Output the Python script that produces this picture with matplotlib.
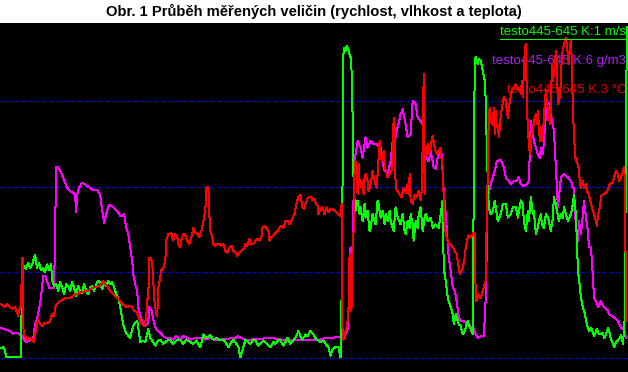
"""
Obr. 1 - průběh měřených veličin (rychlost, vlhkost a teplota), testo 445.
Recreated as a black-background trend plot with three traces.
"""

import matplotlib
matplotlib.use("Agg")
import matplotlib.pyplot as plt
from matplotlib.lines import Line2D

plt.rcParams["font.family"] = ["Liberation Sans", "DejaVu Sans"]

# ---------------------------------------------------------------------------
# Data (sample index, value in grid divisions)
# ---------------------------------------------------------------------------
speed_x = [0, 3, 5, 6, 21, 22, 24, 26, 28, 30, 32, 35, 37, 39, 41, 43, 45, 47, 49, 51,
           52, 54, 56, 58, 60, 62, 64, 66, 68, 70, 72, 74, 76, 78, 80, 82, 84, 86, 88, 90,
           92, 94, 96, 98, 100, 102, 104, 106, 108, 110, 112, 114, 116, 118, 120, 123,
           125, 127, 130, 133, 135, 137, 139, 140, 143, 145, 148, 150, 152, 155, 158,
           160, 163, 165, 168, 170, 173, 176, 180, 183, 186, 190, 193, 196, 200, 203,
           206, 210, 213, 216, 220, 223, 225, 228, 231, 233, 236, 238, 240, 242, 243,
           245, 248, 250, 253, 255, 258, 260, 263, 265, 268, 270, 273, 275, 278, 280,
           283, 285, 287, 290, 293, 295, 298, 300, 302, 305, 307, 310, 313, 316, 318,
           320, 323, 325, 328, 330, 332, 335, 338, 340, 341, 342, 343, 345, 346, 348,
           349, 350, 351, 352, 353, 354, 355, 357, 359, 360, 362, 364, 365, 367, 369,
           370, 372, 374, 375, 377, 378, 380, 382, 384, 385, 387, 389, 390, 392, 393,
           395, 397, 400, 402, 404, 405, 407, 409, 410, 412, 413, 415, 417, 418, 420,
           422, 424, 425, 427, 430, 432, 435, 438, 440, 442, 443, 445, 447, 449, 450,
           452, 453, 455, 457, 458, 460, 462, 464, 465, 467, 468, 470, 472, 473, 474,
           475, 477, 478, 480, 482, 484, 485, 486, 487, 488, 490, 492, 494, 495, 497,
           500, 502, 505, 507, 510, 512, 515, 517, 520, 522, 523, 525, 527, 528, 530,
           532, 533, 535, 537, 538, 540, 541, 543, 545, 547, 548, 550, 552, 553, 555,
           556, 558, 560, 562, 563, 565, 567, 570, 572, 573, 575, 577, 579, 580, 582,
           584, 585, 587, 588, 590, 592, 593, 595, 596, 598, 600, 602, 603, 605, 607,
           609, 610, 612, 613, 615, 617, 619, 620, 622, 624, 625, 626]
speed = [0.11, 0.12, 0.08, 0.01, 0.01, 1.05, 1.07, 1.04, 1.11, 1.05, 1.09, 1.20, 1.05,
         1.11, 1.02, 1.05, 1.00, 1.09, 1.02, 1.10,
         0.90, 0.84, 0.86, 0.78, 0.88, 0.82, 0.74, 0.86, 0.84, 0.78, 0.88, 0.82, 0.72,
         0.84, 0.78, 0.76, 0.86, 0.78, 0.74, 0.82,
         0.84, 0.78, 0.86, 0.90, 0.88, 0.80, 0.87, 0.84, 0.90, 0.86, 0.88, 0.82, 0.74,
         0.70, 0.59, 0.39,
         0.31, 0.27, 0.23, 0.37, 0.41, 0.43, 0.27, 0.18, 0.20, 0.18, 0.33, 0.23, 0.20,
         0.14, 0.20,
         0.21, 0.16, 0.18, 0.21, 0.20, 0.16, 0.20, 0.20, 0.16, 0.21, 0.18, 0.16, 0.20,
         0.12, 0.27,
         0.23, 0.26, 0.21, 0.23, 0.20, 0.21, 0.18, 0.12, 0.18, 0.21, 0.16, 0.12, 0.00,
         0.08, 0.12,
         0.21, 0.18, 0.16, 0.21, 0.20, 0.14, 0.16, 0.20, 0.18, 0.14, 0.12, 0.18, 0.16,
         0.21, 0.20,
         0.14, 0.18, 0.23, 0.16, 0.20, 0.23, 0.31, 0.25, 0.21, 0.27, 0.25, 0.31, 0.27,
         0.21, 0.20,
         0.18, 0.20, 0.16, 0.12, 0.02, 0.10, 0.12, 0.12, 0.00, 0.70, 2.07, 3.63, 3.59,
         3.65, 3.61,
         3.55, 3.52, 3.36, 2.85, 2.07, 1.84, 1.72, 1.84, 1.68, 1.76, 1.60, 1.80, 1.64,
         1.72, 1.48,
         1.52, 1.68, 1.60, 1.56, 1.84, 1.80, 1.64, 1.72, 1.56, 1.68, 1.60, 1.72, 1.60,
         1.52, 1.48,
         1.76, 1.64, 1.56, 1.68, 1.48, 1.45, 1.60, 1.52, 1.68, 1.56, 1.37, 1.60, 1.52,
         1.68, 1.76,
         1.48, 1.64, 1.68, 1.60, 1.64, 1.52, 1.56, 1.52, 1.68, 1.84, 1.05, 0.90, 0.70,
         0.63, 0.59,
         0.51, 0.39, 0.51, 0.43, 0.39, 0.37, 0.27, 0.31, 0.35, 0.43, 0.39, 0.33, 0.27,
         2.07, 3.48,
         3.52, 3.44, 3.50, 3.48, 3.36, 3.24, 3.01, 2.46, 2.07, 1.76, 1.68, 1.72, 1.84,
         1.76, 1.60,
         1.68, 1.80, 1.80, 1.64, 1.68, 1.76, 1.76, 1.64, 1.84, 1.80, 1.60, 1.48, 1.72,
         1.60, 1.88,
         1.68, 1.72, 1.45, 1.52, 1.60, 1.68, 1.56, 1.52, 1.68, 1.64, 1.60, 1.48, 1.64,
         1.88, 1.80,
         1.72, 1.60, 1.68, 1.64, 1.76, 1.68, 1.60, 1.68, 1.80, 1.91, 1.68, 1.02, 0.82,
         0.70, 0.59,
         0.51, 0.43, 0.35, 0.31, 0.35, 0.29, 0.25, 0.31, 0.33, 0.27, 0.27, 0.29, 0.23,
         0.27, 0.35,
         0.27, 0.21, 0.16, 0.12, 0.18, 0.20, 0.23, 0.27, 0.16, 0.51, 2.85, 3.87]

humid_x = [0, 5, 10, 13, 17, 20, 22, 23, 26, 30, 33, 35, 37, 40, 42, 43, 45, 47, 49, 51,
           54, 55, 56, 58, 60, 63, 65, 67, 70, 73, 75, 76, 77, 79, 82, 85, 87, 90, 93,
           97, 100, 102, 104, 106, 108, 109, 112, 115, 118, 120, 122, 124, 126, 128,
           130, 132, 133, 135, 137, 138, 140, 142, 145, 148, 149, 151, 152, 154, 156,
           160, 163, 166, 170, 173, 176, 180, 183, 187, 190, 195, 200, 205, 210, 215,
           220, 235, 238, 240, 245, 250, 270, 280, 290, 300, 310, 318, 325, 330, 340,
           343, 345, 347, 348, 349, 350, 351, 352, 353, 354, 355, 357, 360, 362, 365,
           367, 370, 373, 376, 378, 380, 382, 384, 387, 390, 392, 395, 397, 400, 402,
           405, 407, 410, 412, 415, 417, 420, 422, 424, 426, 428, 430, 433, 435, 437,
           439, 441, 443, 445, 447, 448, 450, 452, 454, 456, 458, 460, 462, 465, 468,
           471, 473, 475, 477, 480, 483, 485, 486, 487, 489, 492, 494, 496, 500, 503,
           505, 508, 510, 513, 516, 518, 520, 523, 526, 528, 530, 533, 537, 539, 540,
           542, 545, 546, 549, 550, 553, 555, 557, 559, 560, 563, 567, 570, 572, 573,
           575, 577, 578, 580, 582, 583, 585, 587, 588, 590, 592, 593, 595, 597, 600,
           603, 607, 608, 613, 617, 620, 623, 625]
humid = [0.35, 0.33, 0.31, 0.28, 0.29, 0.27, 0.25, 0.23, 0.18, 0.20, 0.21, 0.39, 0.45,
         0.63, 0.82, 0.96, 0.96, 0.90, 0.82, 0.81,
         0.82, 1.45, 2.23, 2.23, 2.19, 2.11, 2.05, 1.99, 1.95, 1.93, 1.91, 1.70, 1.91,
         1.99, 2.05, 2.03, 2.01, 1.99, 1.96,
         1.96, 1.91, 1.72, 1.58, 1.68, 1.76, 1.79, 1.77, 1.74, 1.70, 1.66, 1.66, 1.68,
         1.52, 1.46,
         1.29, 1.13, 0.98, 0.86, 0.78, 0.59, 0.49, 0.41, 0.37, 0.41, 0.59, 0.57, 0.51,
         0.39, 0.33,
         0.29, 0.25, 0.23, 0.23, 0.21, 0.25, 0.21, 0.25, 0.23, 0.21, 0.23, 0.23, 0.21,
         0.23, 0.20,
         0.21, 0.23, 0.25, 0.23, 0.21, 0.21, 0.23, 0.21, 0.20, 0.20, 0.20, 0.20, 0.23,
         0.23, 0.24,
         0.21, 0.27, 0.33, 0.59, 0.98, 1.29, 0.59, 1.29, 1.88, 2.30, 2.38, 2.54, 2.46,
         2.34, 2.58,
         2.46, 2.54, 2.50, 2.50, 2.48, 2.46, 2.27, 2.19, 2.15, 2.30, 2.54, 2.58, 2.70,
         2.85, 2.91,
         2.73, 2.58, 2.62, 3.01, 2.97, 2.81, 2.77, 2.73, 2.38, 2.34, 2.30, 2.42, 2.23,
         2.21, 2.34,
         2.42, 2.38, 1.95, 1.68, 1.33, 1.17, 1.02, 0.82, 0.78, 0.66, 0.47, 0.43, 0.43,
         0.41, 0.39,
         0.35, 0.33, 0.27, 0.23, 0.25, 0.25, 0.70, 1.29, 1.88, 1.99, 2.11, 2.19, 2.30,
         2.32, 2.23,
         2.11, 2.07, 2.03, 2.07, 2.07, 2.11, 2.03, 2.01, 2.03, 2.07, 2.77, 2.54, 2.38,
         2.34, 2.46,
         2.38, 2.85, 2.99, 2.97, 2.85, 2.66, 2.23, 1.76, 1.99, 2.11, 2.15, 2.11, 2.07,
         1.99, 1.99,
         1.52, 1.37, 1.60, 1.45, 1.68, 1.84, 1.64, 1.48, 1.29, 1.29, 0.94, 0.70, 0.66,
         0.59, 0.66,
         0.59, 0.55, 0.51, 0.47, 0.43, 0.35, 0.33, 0.23]

temp_x = [0, 3, 5, 7, 10, 13, 15, 17, 18, 20, 21, 22, 23, 23.5, 25, 27, 30, 32, 34, 35,
          37, 38, 40, 42, 45, 48, 50, 52, 54, 55, 57, 60, 63, 65, 67, 70, 73, 75, 78, 80,
          83, 87, 90, 93, 97, 100, 103, 105, 108, 110, 113, 115, 117, 120, 122, 124,
          127, 130, 132, 134, 136, 138, 140, 142, 144, 146, 147, 148, 149, 151, 152,
          153, 154, 156, 157, 158, 160, 161, 163, 165, 166, 168, 170, 171, 172, 173,
          175, 177, 178, 180, 181, 183, 185, 187, 189, 190, 192, 193, 195, 197, 199,
          201, 203, 205, 206, 208, 209, 210, 212, 213, 215, 217, 219, 221, 223, 225,
          227, 229, 231, 233, 235, 237, 239, 241, 243, 245, 247, 249, 251, 253, 255,
          257, 259, 261, 262, 264, 266, 268, 269, 271, 273, 275, 277, 279, 281, 283,
          285, 287, 289, 291, 293, 294, 296, 298, 300, 302, 304, 305, 307, 309, 311,
          312, 314, 315, 317, 318, 320, 322, 324, 326, 328, 330, 332, 334, 336, 338,
          340, 341, 342, 343, 344, 345, 346, 347, 348, 349, 350, 351, 352, 353, 354,
          355, 356, 357, 358, 359, 361, 362, 363, 364, 365, 367, 368, 370, 372, 374,
          376, 377, 378, 379, 380, 382, 383, 385, 387, 389, 391, 392, 393, 394, 395,
          397, 399, 401, 403, 405, 407, 408, 409, 410, 412, 414, 416, 418, 420, 421,
          422, 423, 424, 425, 426, 427, 428, 430, 431, 432, 434, 436, 438, 440, 441,
          442, 443, 444, 446, 448, 450, 452, 454, 456, 458, 459, 461, 462, 464, 465,
          467, 468, 470, 472, 473, 474, 475, 477, 478, 480, 482, 483, 485, 486, 487,
          488, 489, 490, 492, 493, 494, 495, 496, 497, 498, 499, 500, 502, 503, 505,
          506, 507, 509, 511, 513, 515, 517, 518, 520, 521, 522, 524, 525, 526, 527,
          529, 530, 531, 532, 533, 535, 536, 537, 539, 540, 541, 543, 544, 545, 546,
          548, 549, 550, 551, 552, 553, 555, 556, 557, 559, 560, 561, 563, 565, 567,
          568, 569, 570, 571, 572, 573, 574, 575, 576, 577, 578, 579, 580, 582, 583,
          585, 586, 588, 590, 592, 593, 595, 596, 597, 599, 600, 602, 603, 605, 607,
          608, 610, 612, 613, 615, 617, 618, 620, 622, 623, 624, 625]
temp = [0.63, 0.61, 0.59, 0.63, 0.59, 0.57, 0.59, 0.53, 0.49, 0.59, 0.59, 1.17, 1.17,
        0.27, 0.25, 0.21, 0.23, 0.21, 0.18, 0.27,
        0.39, 0.45, 0.39, 0.37, 0.41, 0.41, 0.43, 0.51, 0.49, 0.59, 0.63, 0.66, 0.68,
        0.70, 0.70, 0.70, 0.72, 0.74, 0.75, 0.76,
        0.77, 0.78, 0.80, 0.82, 0.83, 0.84, 0.90, 0.86, 0.82, 0.78, 0.74, 0.72, 0.70,
        0.66, 0.63, 0.61,
        0.59, 0.61, 0.59, 0.55, 0.53, 0.49, 0.43, 0.39, 0.37, 0.47, 0.68, 0.70, 1.17,
        1.15, 1.11,
        0.90, 0.68, 0.51, 0.49, 0.82, 0.94, 1.02, 1.05, 1.13, 1.37, 1.45, 1.45, 1.46,
        1.41, 1.37,
        1.45, 1.41, 1.33, 1.29, 1.37, 1.45, 1.43, 1.37, 1.33, 1.37, 1.45, 1.52, 1.46,
        1.45, 1.41,
        1.48, 1.60, 1.72, 1.99, 2.00, 1.68, 1.48, 1.41, 1.33, 1.31, 1.33, 1.33, 1.31,
        1.33, 1.25,
        1.23, 1.29, 1.31, 1.25, 1.23, 1.19, 1.23, 1.25, 1.27, 1.33, 1.31, 1.39, 1.33,
        1.33, 1.37,
        1.39, 1.37, 1.41, 1.52, 1.54, 1.52, 1.48, 1.37, 1.41, 1.43, 1.46, 1.48, 1.52,
        1.54, 1.52,
        1.60, 1.60, 1.56, 1.60, 1.66, 1.68, 1.80, 1.89, 1.91, 1.76, 1.74, 1.80, 1.86,
        1.88, 1.88,
        1.84, 1.86, 1.82, 1.78, 1.68, 1.74, 1.76, 1.68, 1.76, 1.70, 1.74, 1.74, 1.72,
        1.70, 1.68,
        1.66, 1.80, 0.27, 0.21, 0.27, 0.31, 0.35, 0.43, 0.59, 1.21, 0.55, 0.59, 1.29,
        1.48, 2.19,
        2.30, 2.19, 1.91, 2.27, 2.07, 1.99, 2.07, 1.91, 2.11, 2.15, 2.07, 1.95, 2.03,
        2.19, 2.07,
        1.99, 2.15, 2.34, 2.54, 2.34, 2.30, 2.42, 2.19, 2.11, 2.15, 2.19, 2.30, 2.81,
        2.73, 1.99,
        1.95, 1.91, 1.88, 1.99, 1.93, 2.03, 1.91, 2.15, 1.84, 1.80, 1.91, 1.88, 1.95,
        1.84, 1.95,
        2.50, 3.32, 1.91, 2.46, 2.38, 2.50, 2.38, 2.46, 2.54, 2.60, 2.46, 2.38, 2.42,
        2.46, 2.30,
        2.23, 1.88, 1.52, 1.41, 1.33, 1.33, 1.29, 1.25, 1.21, 1.05, 0.98, 1.02, 1.05,
        1.17, 1.29,
        1.41, 1.43, 1.41, 1.45, 1.46, 1.45, 0.66, 0.70, 0.74, 0.70, 0.78, 0.82, 0.90,
        1.68, 2.15,
        2.85, 2.93, 2.77, 2.73, 2.93, 2.62, 2.89, 2.70, 2.73, 2.58, 2.70, 2.85, 2.99,
        3.05, 3.01,
        2.89, 2.81, 3.01, 3.13, 3.16, 3.20, 3.13, 3.16, 3.09, 3.24, 3.05, 3.63, 3.67,
        3.05, 2.66,
        2.38, 2.42, 2.73, 2.62, 2.77, 2.85, 2.73, 2.89, 2.54, 2.70, 2.54, 2.77, 3.01,
        3.13, 2.97,
        2.85, 2.73, 2.93, 3.44, 3.24, 3.32, 3.59, 3.48, 2.97, 3.05, 3.24, 3.55, 3.67,
        3.75, 3.55,
        3.44, 3.67, 3.71, 3.44, 2.85, 2.66, 2.38, 2.30, 2.34, 2.23, 2.23, 2.03, 1.99,
        2.07, 1.99,
        2.03, 1.95, 1.91, 1.80, 1.72, 1.68, 1.60, 1.54, 1.68, 1.76, 1.89, 1.91, 1.91,
        1.93, 1.97,
        2.01, 2.05, 2.05, 2.11, 2.19, 2.15, 2.07, 2.11, 2.19, 2.23, 2.07, 0.43]

grid_levels = [0, 1, 2, 3]
series_labels = ["testo445-645 K:1 m/s", "testo445-645 K:6 g/m3", "testo445-645 K:3 °C"]

# ---------------------------------------------------------------------------
# Figure
# ---------------------------------------------------------------------------
W, H = 628, 372
fig = plt.figure(figsize=(W / 100, H / 100), dpi=100, facecolor="white")
top_px = 23
ax = fig.add_axes([0, 0, 1, (H - top_px) / H])
ax.set_facecolor("black")
ax.set_xlim(0, 627)
ax.set_ylim(-0.1699, 3.9199)
ax.set_xticks([])
ax.set_yticks([])
for s in ax.spines.values():
    s.set_visible(False)

for lv in grid_levels:
    ax.axhline(lv, color="#0000ff", lw=0.72, ls=(0, (4, 3)), zorder=1)

# legend texts sit below the traces
txt_kw = dict(transform=ax.transAxes, ha="right", va="center", fontsize=9.5, zorder=2)
t_speed = ax.text(626 / W, 1 - (32 - top_px) / (H - top_px), series_labels[0],
                  color="#00ff00", **txt_kw)
ax.text(626 / W, 1 - (61 - top_px) / (H - top_px), series_labels[1],
        color="#b020f0", **txt_kw)
ax.text(626 / W, 1 - (90 - top_px) / (H - top_px), series_labels[2],
        color="#e00000", **txt_kw)

line_kw = dict(lw=0.72, antialiased=False)
ax.plot(humid_x, humid, color="#ff00ff", zorder=3, **line_kw)
ax.plot(speed_x, speed, color="#00ff00", zorder=4, **line_kw)
ax.plot(temp_x, temp, color="#ff0000", zorder=5, **line_kw)

fig.text(0.5, 1 - 11 / H, "Obr. 1 Průběh měřených veličin (rychlost, vlhkost a teplota)",
         ha="center", va="center", fontsize=10.6, fontweight="bold", color="black")

# underline of the first legend entry
fig.canvas.draw()
bb = t_speed.get_window_extent()
fig.add_artist(Line2D([bb.x0 / W, 627 / W], [(H - 38.5) / H] * 2,
                      transform=fig.transFigure, color="#00ff00", lw=0.72,
                      antialiased=False))

fig.savefig("out.png", dpi=100, facecolor="white")
